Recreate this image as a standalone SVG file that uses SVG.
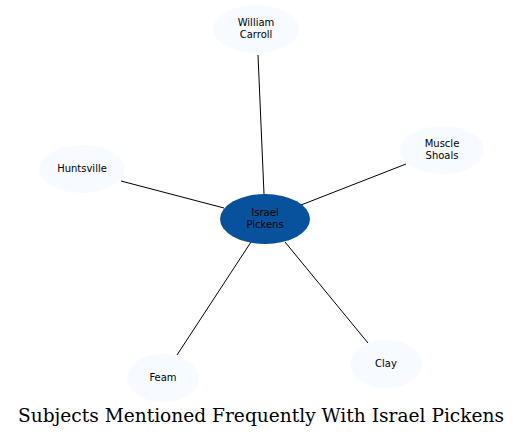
<svg xmlns="http://www.w3.org/2000/svg" width="524" height="439" viewBox="0 0 524 439">
<style>
.n{fill:#f7fbff;stroke:none}
.c{fill:#08519c;stroke:none}
.t{font-family:"DejaVu Sans",sans-serif;font-size:10px;fill:#000;text-anchor:middle}
.e{stroke:#000;stroke-width:1;fill:none}
.title{font-family:"DejaVu Serif",serif;font-size:18.6px;fill:#000;text-anchor:middle}
</style>
<rect width="524" height="439" fill="#fff"/>
<g id="edges">
<line class="e" x1="258" y1="55" x2="264" y2="194"/>
<line class="e" x1="121" y1="181" x2="224" y2="208"/>
<line class="e" x1="406" y1="164" x2="301" y2="205"/>
<line class="e" x1="177" y1="355" x2="251" y2="242"/>
<line class="e" x1="368" y1="343" x2="285" y2="242"/>
</g>
<g id="israel-pickens">
<ellipse class="c" cx="265" cy="219" rx="45" ry="25"/>
<text class="t" x="265" y="216">Israel</text>
<text class="t" x="265" y="228">Pickens</text>
</g>
<g id="william-carroll">
<ellipse class="n" cx="256" cy="29" rx="43" ry="24"/>
<text class="t" x="256" y="26">William</text>
<text class="t" x="256" y="38">Carroll</text>
</g>
<g id="huntsville">
<ellipse class="n" cx="82" cy="169" rx="43" ry="24"/>
<text class="t" x="82" y="172">Huntsville</text>
</g>
<g id="muscle-shoals">
<ellipse class="n" cx="442" cy="150" rx="42" ry="24"/>
<text class="t" x="442" y="147">Muscle</text>
<text class="t" x="442" y="159">Shoals</text>
</g>
<g id="feam">
<ellipse class="n" cx="163" cy="378" rx="36" ry="24"/>
<text class="t" x="163" y="381">Feam</text>
</g>
<g id="clay">
<ellipse class="n" cx="386" cy="364" rx="36" ry="24"/>
<text class="t" x="386" y="367">Clay</text>
</g>
<text class="title" x="261" y="422">Subjects Mentioned Frequently With Israel Pickens</text>
</svg>
